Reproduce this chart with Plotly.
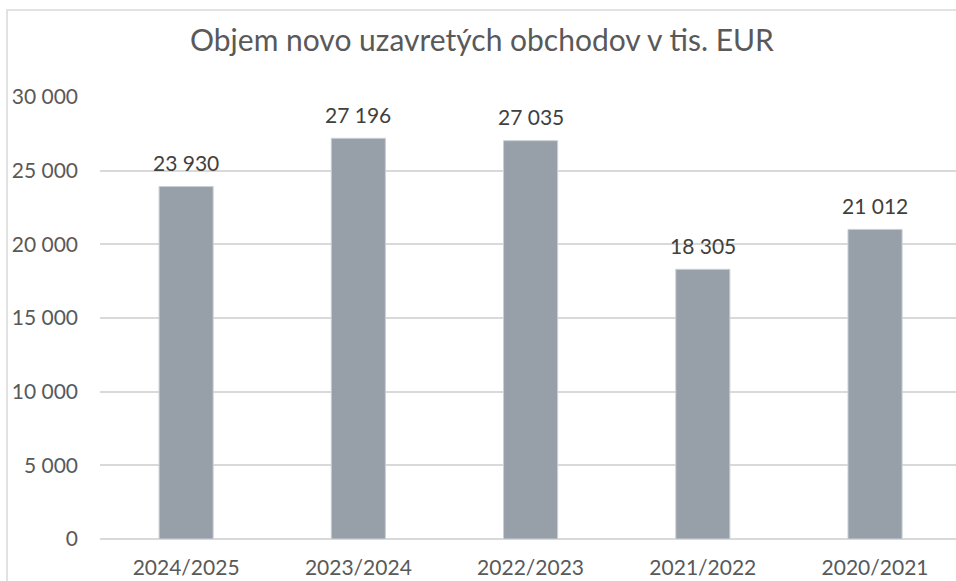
import plotly.graph_objects as go

categories = ["2024/2025", "2023/2024", "2022/2023", "2021/2022", "2020/2021"]
values = [23930, 27196, 27035, 18305, 21012]
y_ticks = [0, 5000, 10000, 15000, 20000, 25000, 30000]
title_text = "Objem novo uzavretých obchodov v tis. EUR"

FONT = "Lato, 'Noto Sans', sans-serif"
W, H = 956, 581
L, R, T, B = 100, 0, 97, 42
pw, ph = W - L - R, H - T - B

fig = go.Figure(
    go.Bar(
        x=categories,
        y=values,
        marker=dict(color="#97a0a9", line=dict(color="#c9cfd5", width=1)),
        width=0.314,
        hoverinfo="skip",
    )
)

# data labels via annotations positioned by the axes
for c, v in zip(categories, values):
    fig.add_annotation(
        x=c, y=v, xref="x", yref="y",
        text=f"{v:,}".replace(",", " "),
        showarrow=False, yanchor="middle", yshift=24,
        font=dict(family=FONT, size=21, color="#404040"),
    )

# chart-area border (Excel style), partially cropped right/bottom
fig.add_shape(
    type="rect", xref="paper", yref="paper",
    x0=(7 - L) / pw, x1=1.2, y0=-0.3, y1=1 + (T - 10) / ph,
    line=dict(color="#d9d9d9", width=1.5), fillcolor="rgba(0,0,0,0)", layer="below",
)

fig.update_layout(
    width=W, height=H,
    margin=dict(l=L, r=R, t=T, b=B),
    paper_bgcolor="white", plot_bgcolor="white",
    separators=", ",
    showlegend=False,
    title=dict(
        text=title_text, x=(482 - L) / pw, xref="paper", xanchor="center",
        y=1 - 40 / H, yanchor="middle",
        font=dict(family=FONT, size=30, color="#595959"),
    ),
    xaxis=dict(
        range=[-0.5, 4.47], showgrid=False, showline=False, zeroline=False,
        tickfont=dict(family=FONT, size=21, color="#595959"), ticks="",
        ticklabelstandoff=14,
    ),
    yaxis=dict(
        range=[0, 30000], tickvals=y_ticks, tickformat=",.0f",
        showgrid=True, gridcolor="#d9d9d9", gridwidth=1.5,
        zeroline=True, zerolinecolor="#d9d9d9", zerolinewidth=1.5,
        showline=False, ticks="",
        tickfont=dict(family=FONT, size=21, color="#595959"),
        ticklabelstandoff=21,
    ),
    font=dict(family=FONT),
)

fig.write_html(
    "out.html",
    config={"displayModeBar": False},
    post_script="document.body.style.margin='0';document.body.style.overflow='hidden';",
)
